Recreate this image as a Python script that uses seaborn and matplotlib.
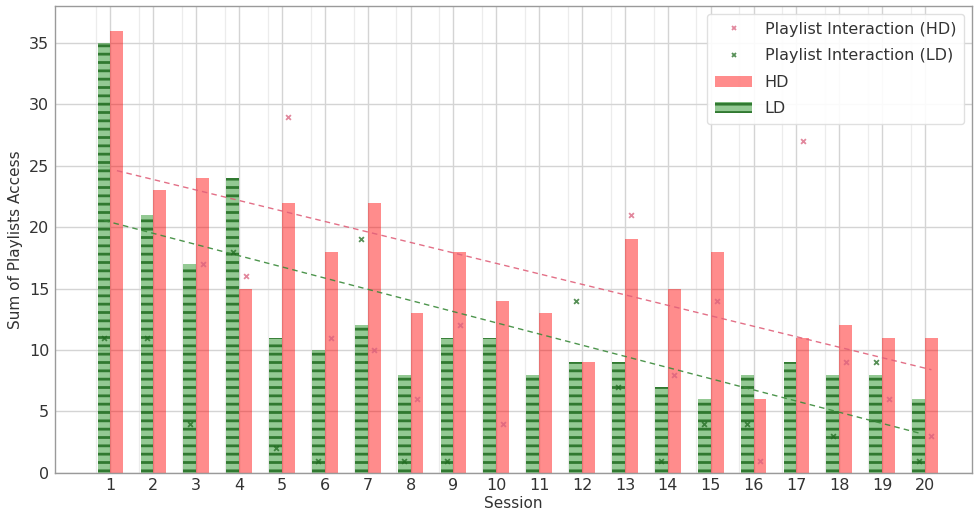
import numpy as np
import pandas as pd
import matplotlib
matplotlib.use("Agg")
import matplotlib.pyplot as plt
import seaborn as sns
from matplotlib.patches import Patch
from matplotlib.lines import Line2D

# Per-session totals
sessions = list(range(1, 21))
hd_access = [36, 23, 24, 15, 22, 18, 22, 13, 18, 14, 13, 9, 19, 15, 18, 6, 11, 12, 11, 11]
ld_access = [35, 21, 17, 24, 11, 10, 12, 8, 11, 11, 8, 9, 9, 7, 6, 8, 9, 8, 8, 6]

# Playlist interaction counts (nan = no recorded interaction)
nan = np.nan
hd_interaction = [nan, nan, 17, 16, 29, 11, 10, 6, 12, 4, nan, nan, 21, 8, 14, 1, 27, 9, 6, 3]
ld_interaction = [11, 11, 4, 18, 2, 1, 19, 1, 1, nan, nan, 14, 7, 1, 4, 4, nan, 3, 9, 1]

sns.set_theme(style="whitegrid")
plt.rcParams["font.family"] = ["DejaVu Sans"]
plt.rcParams["hatch.linewidth"] = 2.0

fig = plt.figure(figsize=(9.78, 5.22), dpi=100)
ax = fig.add_axes([0.056, 0.094, 0.938, 0.8945])

df = pd.DataFrame({
    "Session": sessions * 2,
    "Access": ld_access + hd_access,
    "Group": ["LD"] * len(sessions) + ["HD"] * len(sessions),
})

sns.barplot(data=df, x="Session", y="Access", hue="Group", hue_order=["LD", "HD"],
            palette={"LD": "green", "HD": "red"}, native_scale=True, dodge=True,
            width=0.6, errorbar=None, saturation=1, ax=ax, legend=False, zorder=2)

LD_FACE = (0.0, 0.5, 0.0, 0.42)
LD_HATCH = (0.12, 0.42, 0.12, 0.85)
HD_FACE = (1.0, 0.0, 0.0, 0.45)

ld_cont, hd_cont = ax.containers[0], ax.containers[1]
for p in ld_cont:
    p.set_facecolor(LD_FACE)
    p.set_hatch("--")
    p.set_edgecolor(LD_HATCH)
    p.set_linewidth(0)
for p in hd_cont:
    p.set_facecolor(HD_FACE)
    p.set_linewidth(0)

off = 0.15
x = np.array(sessions, dtype=float)

# Trend lines fitted to the bar totals
sns.regplot(x=x + off, y=np.array(hd_access), scatter=False, ci=None, ax=ax,
            line_kws=dict(color="#e0607a", lw=1.0, ls=(0, (4, 3)), alpha=0.9, zorder=3))
sns.regplot(x=x - off, y=np.array(ld_access), scatter=False, ci=None, ax=ax,
            line_kws=dict(color="#3a8a3a", lw=1.0, ls=(0, (4, 3)), alpha=0.9, zorder=3))

# Interaction markers
sns.scatterplot(x=x + off, y=hd_interaction, marker="x", s=12, color="#d9607c",
                linewidth=1.3, alpha=0.75, ax=ax, zorder=4)
sns.scatterplot(x=x - off, y=ld_interaction, marker="x", s=12, color="#1f6b1f",
                linewidth=1.3, alpha=0.75, ax=ax, zorder=4)

ax.set_xlim(-0.3, 21.1)
ax.set_ylim(0, 38)
ax.set_xticks(sessions)
ax.set_xticklabels([str(s) for s in sessions])
ax.set_xticks(x - 0.33, minor=True)
ax.set_yticks([0, 5, 10, 15, 20, 25, 30, 35])
ax.tick_params(labelsize=11.5, colors="#333333", length=0, pad=4)
ax.tick_params(which="minor", length=0)
ax.set_xlabel("Session", fontsize=11, color="#333333", labelpad=2)
ax.set_ylabel("Sum of Playlists Access", fontsize=11, color="#333333", labelpad=4)
ax.grid(True, which="major", color="#d4d4d4", lw=1.0)
ax.grid(True, which="minor", axis="x", color="#ececec", lw=0.9)
ax.set_axisbelow(True)
for s in ax.spines.values():
    s.set_color("#9a9a9a")
    s.set_linewidth(1.0)

handles = [
    Line2D([], [], ls="none", marker="x", color="#d9607c", markersize=3.5, mew=1.3, alpha=0.75),
    Line2D([], [], ls="none", marker="x", color="#1f6b1f", markersize=3.5, mew=1.3, alpha=0.75),
    Patch(facecolor=HD_FACE, lw=0),
    Patch(facecolor=LD_FACE, hatch="--", edgecolor=LD_HATCH, lw=0),
]
labels = ["Playlist Interaction (HD)", "Playlist Interaction (LD)", "HD", "LD"]
leg = ax.legend(handles, labels, loc="upper right", fontsize=11.5, frameon=True,
                framealpha=0.9, edgecolor="#dddddd", borderpad=0.5, labelspacing=0.72,
                handlelength=2.3)
for t in leg.get_texts():
    t.set_color("#333333")

fig.savefig("out.png", dpi=100)
